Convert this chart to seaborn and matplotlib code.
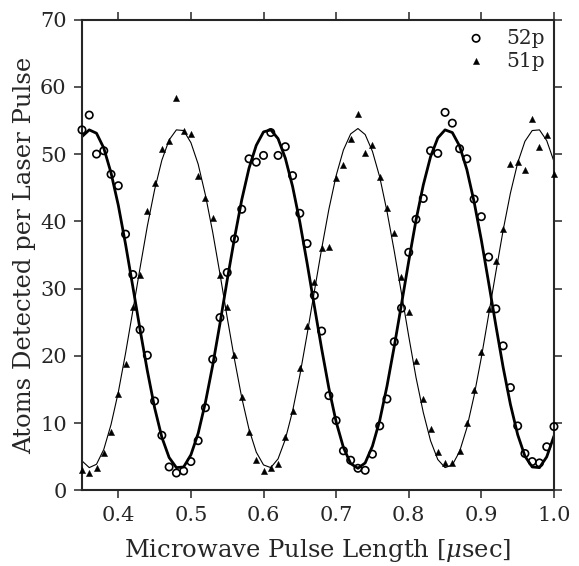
import matplotlib
matplotlib.use("Agg")
import matplotlib.pyplot as plt
import seaborn as sns
import pandas as pd

# pulse lengths (usec), one measurement every 0.01
pulse = [round(0.35 + 0.01 * i, 2) for i in range(66)]

# measured atoms per laser pulse
atoms_52p = [53.6, 55.8, 50.0, 50.5, 47.0, 45.3, 38.1, 32.1,
             23.9, 20.1, 13.3, 8.2, 3.5, 2.6, 2.9, 4.3, 7.4, 12.3, 19.5, 25.7,
             32.4, 37.4, 41.8, 49.3, 48.8, 49.8, 53.2, 49.8, 51.1, 46.8, 41.2, 36.7,
             29.0, 23.7, 14.1, 10.4, 5.9, 4.5, 3.3, 3.0, 5.4, 9.6, 13.6, 22.1, 27.1,
             35.4, 40.3, 43.4, 50.5, 50.1, 56.2, 54.6, 50.8, 49.3, 43.3, 40.7, 34.7,
             27.0, 21.5, 15.3, 9.6, 5.5, 4.3, 4.1, 6.5, 9.5]
atoms_51p = [3.0, 2.6, 3.3, 5.5, 8.7, 14.3, 18.8, 27.2,
             32.0, 41.6, 45.7, 50.8, 51.9, 58.4, 53.4, 53.0, 46.8, 43.5, 40.5, 32.0,
             27.2, 20.1, 13.9, 8.7, 4.6, 2.9, 3.3, 4.0, 8.0, 11.8, 18.2, 24.4,
             31.0, 36.1, 36.2, 46.4, 48.4, 52.2, 56.0, 50.2, 51.4, 46.6, 42.0, 38.2, 31.8,
             26.6, 19.2, 13.6, 9.2, 5.7, 4.1, 4.1, 5.8, 10.1, 14.9, 20.6, 27.0,
             34.1, 38.9, 48.5, 48.8, 47.6, 55.2, 51.1, 52.8, 47.0]

# fitted curves at the same pulse lengths
fit_52p = [52.6, 53.6, 53.1, 50.9, 47.2, 42.4, 36.6, 30.3, 23.9, 17.8,
           12.3, 7.9, 4.9, 3.4, 3.5, 5.3, 8.5, 13.1, 18.6, 24.8,
           31.3, 37.5, 43.2, 47.9, 51.3, 53.3, 53.6, 52.3, 49.4, 45.2,
           39.9, 33.8, 27.4, 21.1, 15.2, 10.2, 6.4, 4.0, 3.3, 4.1,
           6.6, 10.4, 15.5, 21.4, 27.7, 34.1, 40.2, 45.4, 49.6, 52.4,
           53.6, 53.2, 51.2, 47.7, 42.9, 37.2, 30.9, 24.5, 18.3, 12.8,
           8.3, 5.1, 3.5, 3.4, 5.0, 8.1]
fit_51p = [4.4, 3.4, 3.9, 6.1, 9.8, 14.6, 20.4, 26.7, 33.1, 39.3,
           44.7, 49.1, 52.1, 53.6, 53.5, 51.7, 48.5, 43.9, 38.4, 32.2,
           25.7, 19.5, 13.8, 9.1, 5.7, 3.8, 3.4, 4.7, 7.6, 11.8,
           17.1, 23.2, 29.6, 35.9, 41.8, 46.8, 50.6, 53.0, 53.8, 52.9,
           50.4, 46.6, 41.5, 35.6, 29.3, 22.9, 16.8, 11.6, 7.4, 4.6,
           3.4, 3.8, 5.8, 9.3, 14.1, 19.8, 26.1, 32.5, 38.7, 44.2,
           48.7, 51.9, 53.5, 53.6, 52.0, 48.9]

df = pd.DataFrame({'pulse': pulse, 'n52': atoms_52p, 'n51': atoms_51p,
                   'f52': fit_52p, 'f51': fit_51p})

sns.set_style("ticks")
plt.rcParams['font.family'] = ['DejaVu Serif']
plt.rcParams['mathtext.fontset'] = 'dejavuserif'

fig = plt.figure(figsize=(5.79, 5.66), dpi=100)
ax = fig.add_axes([0.1416, 0.1334, 0.8152, 0.8321])

# fit lines
sns.lineplot(x='pulse', y='f52', data=df, ax=ax, color='black', lw=2.0)
sns.lineplot(x='pulse', y='f51', data=df, ax=ax, color='black', lw=0.8)

# data points
sns.scatterplot(x='pulse', y='n52', data=df, ax=ax, marker='o', s=28,
                facecolor='none', edgecolor='black', linewidth=1.2,
                label='52p', clip_on=False, zorder=3)
sns.scatterplot(x='pulse', y='n51', data=df, ax=ax, marker='^', s=20,
                color='black', edgecolor='black', linewidth=0.3,
                label='51p', clip_on=False, zorder=3)

ax.set_xlim(0.35, 1.0)
ax.set_ylim(0, 70)
ax.set_xticks([0.4, 0.5, 0.6, 0.7, 0.8, 0.9, 1.0])
ax.set_xticklabels(['0.4', '0.5', '0.6', '0.7', '0.8', '0.9', '1.0'])
ax.set_yticks(range(0, 71, 10))
ax.tick_params(direction='out', length=6, width=1.1, labelsize=15, pad=5,
               top=True, right=True, labeltop=False, labelright=False)
for sp in ax.spines.values():
    sp.set_linewidth(1.5)
    sp.set_visible(True)

ax.set_xlabel(r'Microwave Pulse Length [$\mu$sec]', fontsize=17.5, labelpad=9)
ax.set_ylabel('Atoms Detected per Laser Pulse', fontsize=17.5, labelpad=3)

ax.legend(loc='upper right', frameon=False, fontsize=14.5, handletextpad=1.0,
          borderaxespad=0.15, labelspacing=0.2, handlelength=1.0,
          borderpad=0.3)

plt.savefig('out.png', dpi=100)
